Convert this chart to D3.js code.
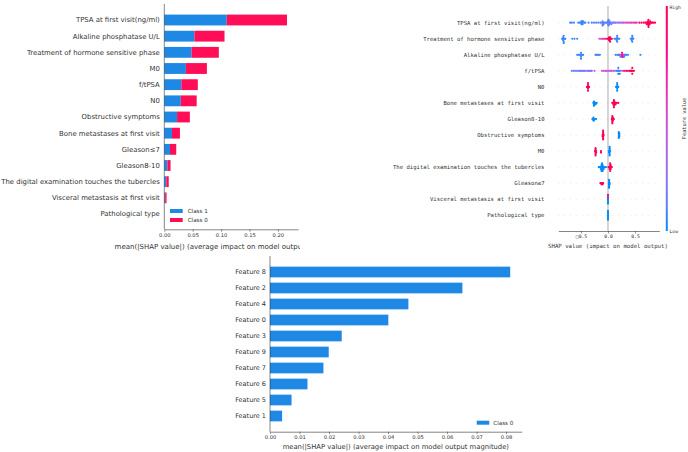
<!DOCTYPE html>
<html>
<head>
<meta charset="utf-8">
<script src="https://cdn.jsdelivr.net/npm/d3@7"></script>
<style>
body { margin: 0; background: #fff; }
text { font-family: "DejaVu Sans", sans-serif; fill: #333; }
.mono text { font-family: "DejaVu Sans Mono", "DejaVu Sans", monospace; }
</style>
</head>
<body>
<div id="chart"></div>
<script>
// ---- top-left: stacked mean |SHAP| per class
const barFeatures = ["TPSA at first visit(ng/ml)", "Alkaline phosphatase U/L", "Treatment of hormone sensitive phase",
    "M0", "f/tPSA", "N0", "Obstructive symptoms", "Bone metastases at first visit", "Gleason\u22647", "Gleason8-10",
    "The digital examination touches the tubercles", "Visceral metastasis at first visit", "Pathological type"];
const class1Values = [0.110, 0.053, 0.048, 0.038, 0.030, 0.029, 0.0225, 0.0135, 0.0100, 0.0055, 0.0035, 0.0015, 0];
const class0Values = [0.106, 0.053, 0.048, 0.037, 0.029, 0.028, 0.0225, 0.0140, 0.0110, 0.0055, 0.0043, 0.0025, 0];
const barTicks = [0, 0.05, 0.10, 0.15, 0.20];
const barClasses = ["Class 1", "Class 0"];

// ---- top-right: beeswarm, each point = [shap value, feature value 0..1]
const swarmFeatures = ["TPSA at first visit(ng/ml)", "Treatment of hormone sensitive phase", "Alkaline phosphatase U/L",
    "f/tPSA", "N0", "Bone metastases at first visit", "Gleason8-10", "Obstructive symptoms", "M0",
    "The digital examination touches the tubercles", "Gleason\u22647", "Visceral metastasis at first visit", "Pathological type"];
const swarmPoints = [
    [[-0.70,0.05],[-0.67,0.05],[-0.63,0.08],[-0.55,0.05],[-0.52,0.06],[-0.50,0.04],[-0.49,0.05],[-0.49,0.03],[-0.48,0.05],[-0.48,0.07],[-0.48,0.05],[-0.47,0.04],[-0.47,0.05],[-0.46,0.06],[-0.44,0.05],[-0.42,0.06],
     [-0.36,0.08],[-0.30,0.08],[-0.26,0.1],[-0.22,0.1],[-0.18,0.1],[-0.14,0.1],
     [-0.11,0.1],[-0.10,0.08],[-0.10,0.1],[-0.10,0.12],[-0.09,0.1],[-0.08,0.1],[-0.06,0.1],[-0.04,0.12],
     [-0.02,0.1],[-0.01,0.12],[0.00,0.1],[0.00,0.14],[0.00,0.1],[0.01,0.12],[0.01,0.1],[0.02,0.14],[0.02,0.12],[0.03,0.15],[0.04,0.12],[0.05,0.15],[0.06,0.14],
     [0.08,0.18],[0.10,0.2],[0.12,0.2],[0.14,0.22],[0.17,0.25],[0.20,0.3],
     [0.23,0.4],[0.26,0.45],[0.29,0.5],[0.32,0.5],[0.35,0.55],[0.38,0.55],[0.41,0.6],[0.44,0.6],[0.47,0.62],[0.50,0.65],[0.53,0.7],
     [0.58,0.9],[0.62,0.92],[0.66,0.95],[0.69,0.95],[0.71,1],[0.72,0.95],[0.73,1],[0.74,1],[0.74,0.98],[0.74,1],[0.75,1],[0.75,1],[0.75,1],[0.76,1],[0.76,0.98],[0.77,1],[0.77,1],[0.78,1],[0.79,1],[0.80,1],[0.82,1],[0.84,1],[0.87,1]],
    [[-0.85,0.05],[-0.84,0.05],[-0.83,0.05],[-0.83,0.05],[-0.83,0.05],[-0.82,0.05],[-0.82,0.05],[-0.82,0.05],[-0.81,0.05],[-0.80,0.05],[-0.79,0.05],
     [-0.66,0.05],[-0.62,0.05],[-0.57,0.05],
     [-0.16,0.45],[-0.13,0.5],[-0.11,0.4],[-0.09,0.55],[-0.07,0.6],[-0.05,0.7],
     [-0.02,0.95],[0.00,1],[0.01,1],[0.02,1],[0.02,1],[0.02,1],[0.03,1],[0.03,1],[0.04,1],[0.04,1],[0.05,1],[0.06,1],[0.07,0.95],
     [0.12,0.05],[0.14,0.05],[0.16,0.05],[0.16,0.05],[0.17,0.05],[0.17,0.05],[0.17,0.05],[0.18,0.05],[0.19,0.05],[0.21,0.05],
     [0.42,0.05],[0.44,0.05],[0.44,0.05],[0.45,0.05],[0.45,0.05],[0.45,0.05],[0.46,0.05],[0.47,0.05]],
    [[-0.57,0.05],[-0.54,0.05],[-0.52,0.05],[-0.51,0.05],[-0.50,0.05],[-0.50,0.05],[-0.50,0.05],[-0.50,0.05],[-0.49,0.05],[-0.48,0.05],[-0.46,0.05],
     [-0.23,0.05],[-0.21,0.05],[-0.19,0.05],[-0.17,0.05],[-0.15,0.05],
     [0.14,0.05],[0.17,0.05],[0.19,0.05],[0.20,0.08],[0.21,0.05],[0.22,0.1],[0.23,0.05],[0.24,0.4],[0.25,0.55],[0.26,0.7],[0.26,0.6],[0.26,0.8],[0.27,0.8],[0.27,0.9],[0.28,0.95],[0.28,0.85],[0.29,0.5],[0.30,0.05],[0.31,0.05],[0.32,0.05],[0.34,0.05],[0.37,0.05],
     [0.60,0.05]],
    [[-0.67,0.15],[-0.64,0.2],[-0.61,0.15],[-0.58,0.2],[-0.55,0.15],[-0.53,0.2],[-0.51,0.2],[-0.49,0.15],[-0.47,0.2],[-0.45,0.25],[-0.43,0.2],[-0.41,0.2],[-0.38,0.15],[-0.36,0.25],[-0.34,0.2],[-0.32,0.3],[-0.31,0.25],[-0.30,0.3],[-0.25,0.35],
     [-0.11,0.5],[-0.08,0.45],[-0.05,0.5],[-0.03,0.45],[0.00,0.5],[0.02,0.45],[0.05,0.5],[0.07,0.45],[0.10,0.5],[0.13,0.4],
     [0.16,0.05],[0.18,0.05],[0.19,0.05],[0.19,0.05],[0.19,0.05],[0.20,0.05],[0.20,0.05],[0.21,0.05],[0.22,0.05],[0.24,0.1],
     [0.28,0.7],[0.31,0.75],[0.34,0.85],[0.37,0.9],[0.40,1],[0.42,1],[0.43,1],[0.44,1],[0.45,1],[0.45,1],[0.46,1],[0.48,1]],
    [[-0.39,1],[-0.38,1],[-0.37,1],[-0.37,1],[-0.37,1],[-0.37,1],[-0.37,1],[-0.36,1],[-0.35,1],
     [0.15,0],[0.16,0],[0.17,0],[0.17,0],[0.17,0],[0.17,0],[0.17,0],[0.18,0],[0.19,0]],
    [[-0.27,0],[-0.26,0],[-0.26,0],[-0.26,0],[-0.26,0],[-0.25,0],[-0.23,0],[-0.23,0],[-0.21,0],
     [0.08,1],[0.10,1],[0.10,1],[0.11,1],[0.11,1],[0.11,1],[0.11,1],[0.11,1],[0.11,1],[0.12,1],[0.12,1],[0.12,1],[0.14,1],[0.14,1],[0.16,1],[0.19,1]],
    [[-0.29,0],[-0.27,0],[-0.27,0],[-0.27,0],[-0.26,0],[-0.26,0],[-0.24,0],[-0.22,0],
     [0.07,1],[0.08,1],[0.08,1],[0.08,1],[0.08,1],[0.08,1],[0.08,1],[0.09,1],[0.09,1],[0.09,1],[0.11,1]],
    [[-0.10,1],[-0.10,1],[-0.09,1],[-0.09,1],[-0.09,1],[-0.09,1],[-0.09,1],[-0.09,1],[-0.09,1],[-0.08,1],
     [0.20,0],[0.20,0],[0.20,0],[0.20,0],[0.20,0],[0.21,0],[0.21,0],[0.21,0]],
    [[-0.24,1],[-0.23,1],[-0.23,1],[-0.23,1],[-0.23,1],[-0.23,1],[-0.23,1],[-0.22,1],[-0.22,1],[-0.13,1],[-0.13,1],
     [0.02,0],[0.02,0],[0.03,0],[0.03,0],[0.03,0],[0.03,0],[0.03,0],[0.03,0],[0.03,0],[0.04,0]],
    [[-0.17,0],[-0.15,0],[-0.13,0],[-0.13,0],[-0.12,0],[-0.12,0],[-0.12,0],[-0.12,0],[-0.11,0],[-0.11,0],[-0.11,0],[-0.11,0],[-0.11,0],[-0.10,0],[-0.10,0],[-0.10,0],[-0.10,0],[-0.08,0],[-0.08,0],[-0.06,0],[-0.04,0],
     [0.01,1],[0.03,1],[0.03,1],[0.04,1],[0.04,1],[0.04,1],[0.04,1],[0.04,1],[0.05,1],[0.05,1],[0.05,1],[0.07,1]],
    [[-0.14,1],[-0.12,1],[-0.12,1],[-0.10,1],[-0.10,1],[-0.09,1],
     [0.02,0],[0.02,0],[0.02,0],[0.02,0],[0.02,0],[0.02,0],[0.02,0],[0.02,0],[0.03,0],[0.03,0]],
    [[0,0],[0,0],[0,1],[0,0],[0,0],[0,0],[0,1]],
    [[0,0],[0,0],[0,0],[0,0],[0,0],[0,0],[0,0]]
];
const swarmTicks = [-0.5, 0, 0.5];
const swarmTickLabels = ["\u25A10.5", "0.0", "0.5"];

// ---- bottom: single class mean |SHAP|
const featNames = ["Feature 8", "Feature 2", "Feature 4", "Feature 0", "Feature 3", "Feature 9", "Feature 7", "Feature 6", "Feature 5", "Feature 1"];
const featValues = [0.0814, 0.0652, 0.0469, 0.0401, 0.0243, 0.0199, 0.0181, 0.0127, 0.0073, 0.0041];
const featTicks = [0, 0.01, 0.02, 0.03, 0.04, 0.05, 0.06, 0.07, 0.08];

const blue = "#1e88e5", red = "#ff0d57";
const axisTitle = "mean(|SHAP value|) (average impact on model output magnitude)";

const svg = d3.select("#chart").append("svg")
    .attr("width", 688).attr("height", 452);

// ================= panel 1
svg.append("clipPath").attr("id", "clip1")
    .append("rect").attr("x", 0).attr("y", 0).attr("width", 300).attr("height", 260);
const p1 = svg.append("g").attr("clip-path", "url(#clip1)");

const x1 = d3.scaleLinear().domain([0, 0.2354]).range([164.3, 298]);
const y1 = d3.scalePoint().domain(barFeatures).range([20, 214]);
const barH1 = y1.step() * 0.67;

p1.selectAll(".b1").data(barFeatures).enter().append("rect")
    .attr("x", x1(0))
    .attr("y", d => y1(d) - barH1 / 2)
    .attr("width", (d, i) => x1(class1Values[i]) - x1(0))
    .attr("height", barH1)
    .attr("fill", blue);
p1.selectAll(".b0").data(barFeatures).enter().append("rect")
    .attr("x", (d, i) => x1(class1Values[i]))
    .attr("y", d => y1(d) - barH1 / 2)
    .attr("width", (d, i) => x1(class1Values[i] + class0Values[i]) - x1(class1Values[i]))
    .attr("height", barH1)
    .attr("fill", red);

p1.selectAll(".lab1").data(barFeatures).enter().append("text")
    .attr("x", x1(0) - 4.5)
    .attr("y", d => y1(d))
    .attr("dy", "0.35em")
    .attr("text-anchor", "end")
    .style("font-size", "6.9px")
    .text(d => d);

const ax1Y = 229.3;
p1.append("line")
    .attr("x1", x1(0)).attr("x2", x1(0))
    .attr("y1", y1.range()[0] - y1.step()).attr("y2", ax1Y)
    .attr("stroke", "#333").attr("stroke-width", 0.6);
const xAxis1 = p1.append("g").attr("transform", "translate(0," + ax1Y + ")")
    .call(d3.axisBottom(x1).tickValues(barTicks).tickFormat(d3.format(".2f")).tickSize(2.5).tickSizeOuter(0));
xAxis1.select(".domain").attr("stroke", "#333").attr("stroke-width", 0.6);
xAxis1.selectAll(".tick line").attr("stroke", "#333").attr("stroke-width", 0.5);
xAxis1.selectAll(".tick text").attr("y", 4).style("font-size", "5.2px").style("fill", "#333").attr("font-family", null);
p1.append("text")
    .attr("x", (x1.range()[0] + x1.range()[1]) / 2)
    .attr("y", 249)
    .attr("text-anchor", "middle")
    .style("font-size", "7px")
    .text(axisTitle);

// legend
barClasses.forEach((c, i) => {
    p1.append("rect").attr("x", 170).attr("y", 209 + i * 9).attr("width", 12.7).attr("height", 4)
        .attr("fill", i === 0 ? blue : red);
    p1.append("text").attr("x", 187.7).attr("y", 211 + i * 9).attr("dy", "0.35em")
        .style("font-size", "5.6px").text(c);
});

// ================= panel 2 (beeswarm)
const p2 = svg.append("g").attr("class", "mono");
const x2 = d3.scaleLinear().domain([-0.92, 0.95]).range([558.3, 659.3]);
const y2 = d3.scalePoint().domain(swarmFeatures).range([22.7, 215.3]);
const color = d3.scaleSequential(d3.interpolateHcl("#008bfb", "#ff0052")).domain([0, 1]);
const ax2Y = 231;

p2.selectAll(".grid").data(swarmFeatures).enter().append("line")
    .attr("x1", x2.range()[0]).attr("x2", x2.range()[1])
    .attr("y1", d => y2(d)).attr("y2", d => y2(d))
    .attr("stroke", "#ccc").attr("stroke-width", 0.5).attr("stroke-dasharray", "1,5");
p2.append("line")
    .attr("x1", x2(0)).attr("x2", x2(0)).attr("y1", 6).attr("y2", ax2Y)
    .attr("stroke", "#999").attr("stroke-width", 0.8);

swarmFeatures.forEach((name, i) => {
    let pts = swarmPoints[i];
    let vals = pts.map(p => p[0]);
    let lo = d3.min(vals), hi = d3.max(vals);
    let nbins = 100;
    let quant = vals.map(v => Math.round(nbins * (v - lo) / (hi - lo + 1e-8)));
    let order = d3.range(pts.length).sort((a, b) => quant[a] - quant[b] || a - b);
    let ys = new Array(pts.length).fill(0);
    let layer = 0, lastBin = -1;
    order.forEach(k => {
        if (quant[k] !== lastBin) layer = 0;
        ys[k] = Math.ceil(layer / 2) * ((layer % 2) * 2 - 1);
        layer++;
        lastBin = quant[k];
    });
    let scale = 0.9 * (y2.step() * 0.4) / (d3.max(ys) + 1);
    p2.selectAll(".dot" + i).data(pts).enter().append("circle")
        .attr("cx", d => x2(d[0]))
        .attr("cy", (d, k) => y2(name) + ys[k] * scale)
        .attr("r", 1.1)
        .attr("fill", d => color(d[1]));
});

p2.selectAll(".lab2").data(swarmFeatures).enter().append("text")
    .attr("x", 544.5)
    .attr("y", d => y2(d))
    .attr("dy", "0.35em")
    .attr("text-anchor", "end")
    .style("font-size", "5.6px")
    .text(d => d);

const xAxis2 = p2.append("g").attr("transform", "translate(0," + ax2Y + ")")
    .call(d3.axisBottom(x2).tickValues(swarmTicks).tickFormat((d, i) => swarmTickLabels[i]).tickSize(2.5).tickSizeOuter(0));
xAxis2.select(".domain").attr("stroke", "#333").attr("stroke-width", 0.6);
xAxis2.selectAll(".tick line").attr("stroke", "#333").attr("stroke-width", 0.5);
xAxis2.selectAll(".tick text").attr("y", 4).style("font-size", "4.7px").style("fill", "#333").attr("font-family", null);
p2.append("text")
    .attr("x", x2(0)).attr("y", 248)
    .attr("text-anchor", "middle")
    .style("font-size", "5.7px")
    .text("SHAP value (impact on model output)");

// colour bar
const grad = svg.append("defs").append("linearGradient").attr("id", "cbar")
    .attr("x1", 0).attr("y1", 1).attr("x2", 0).attr("y2", 0);
d3.range(0, 1.0001, 0.1).forEach(t => {
    grad.append("stop").attr("offset", t).attr("stop-color", color(t));
});
p2.append("rect").attr("x", 665.8).attr("y", 6).attr("width", 2).attr("height", 225)
    .attr("fill", "url(#cbar)");
p2.append("text").attr("x", 669.5).attr("y", 7).attr("dy", "0.35em").style("font-size", "4.7px").text("High");
p2.append("text").attr("x", 669.5).attr("y", 231).attr("dy", "0.35em").style("font-size", "4.7px").text("Low");
p2.append("text")
    .attr("transform", "translate(684,118.5) rotate(-90)")
    .attr("text-anchor", "middle")
    .attr("dy", "0.35em")
    .style("font-size", "5.3px")
    .text("Feature value");

// ================= panel 3
const p3 = svg.append("g");
const x3 = d3.scaleLinear().domain([0, 0.0853]).range([270, 521.7]);
const y3 = d3.scalePoint().domain(featNames).range([272, 416]);
const barH3 = y3.step() * 0.67;
const ax3Y = 431.7;

p3.selectAll(".b3").data(featNames).enter().append("rect")
    .attr("x", x3(0))
    .attr("y", d => y3(d) - barH3 / 2)
    .attr("width", (d, i) => x3(featValues[i]) - x3(0))
    .attr("height", barH3)
    .attr("fill", blue);
p3.selectAll(".lab3").data(featNames).enter().append("text")
    .attr("x", x3(0) - 4)
    .attr("y", d => y3(d))
    .attr("dy", "0.35em")
    .attr("text-anchor", "end")
    .style("font-size", "6.5px")
    .text(d => d);
p3.append("line")
    .attr("x1", x3(0)).attr("x2", x3(0))
    .attr("y1", y3.range()[0] - y3.step()).attr("y2", ax3Y)
    .attr("stroke", "#333").attr("stroke-width", 0.6);
const xAxis3 = p3.append("g").attr("transform", "translate(0," + ax3Y + ")")
    .call(d3.axisBottom(x3).tickValues(featTicks).tickFormat(d3.format(".2f")).tickSize(2.5).tickSizeOuter(0));
xAxis3.select(".domain").attr("stroke", "#333").attr("stroke-width", 0.6);
xAxis3.selectAll(".tick line").attr("stroke", "#333").attr("stroke-width", 0.5);
xAxis3.selectAll(".tick text").attr("y", 4).style("font-size", "5.2px").style("fill", "#333").attr("font-family", null);
p3.append("text")
    .attr("x", (x3.range()[0] + x3.range()[1]) / 2)
    .attr("y", 449)
    .attr("text-anchor", "middle")
    .style("font-size", "6.8px")
    .text(axisTitle);
p3.append("rect").attr("x", 476.7).attr("y", 420.7).attr("width", 12.6).attr("height", 4).attr("fill", blue);
p3.append("text").attr("x", 493.3).attr("y", 422.7).attr("dy", "0.35em").style("font-size", "5.6px").text("Class 0");
</script>
</body>
</html>
